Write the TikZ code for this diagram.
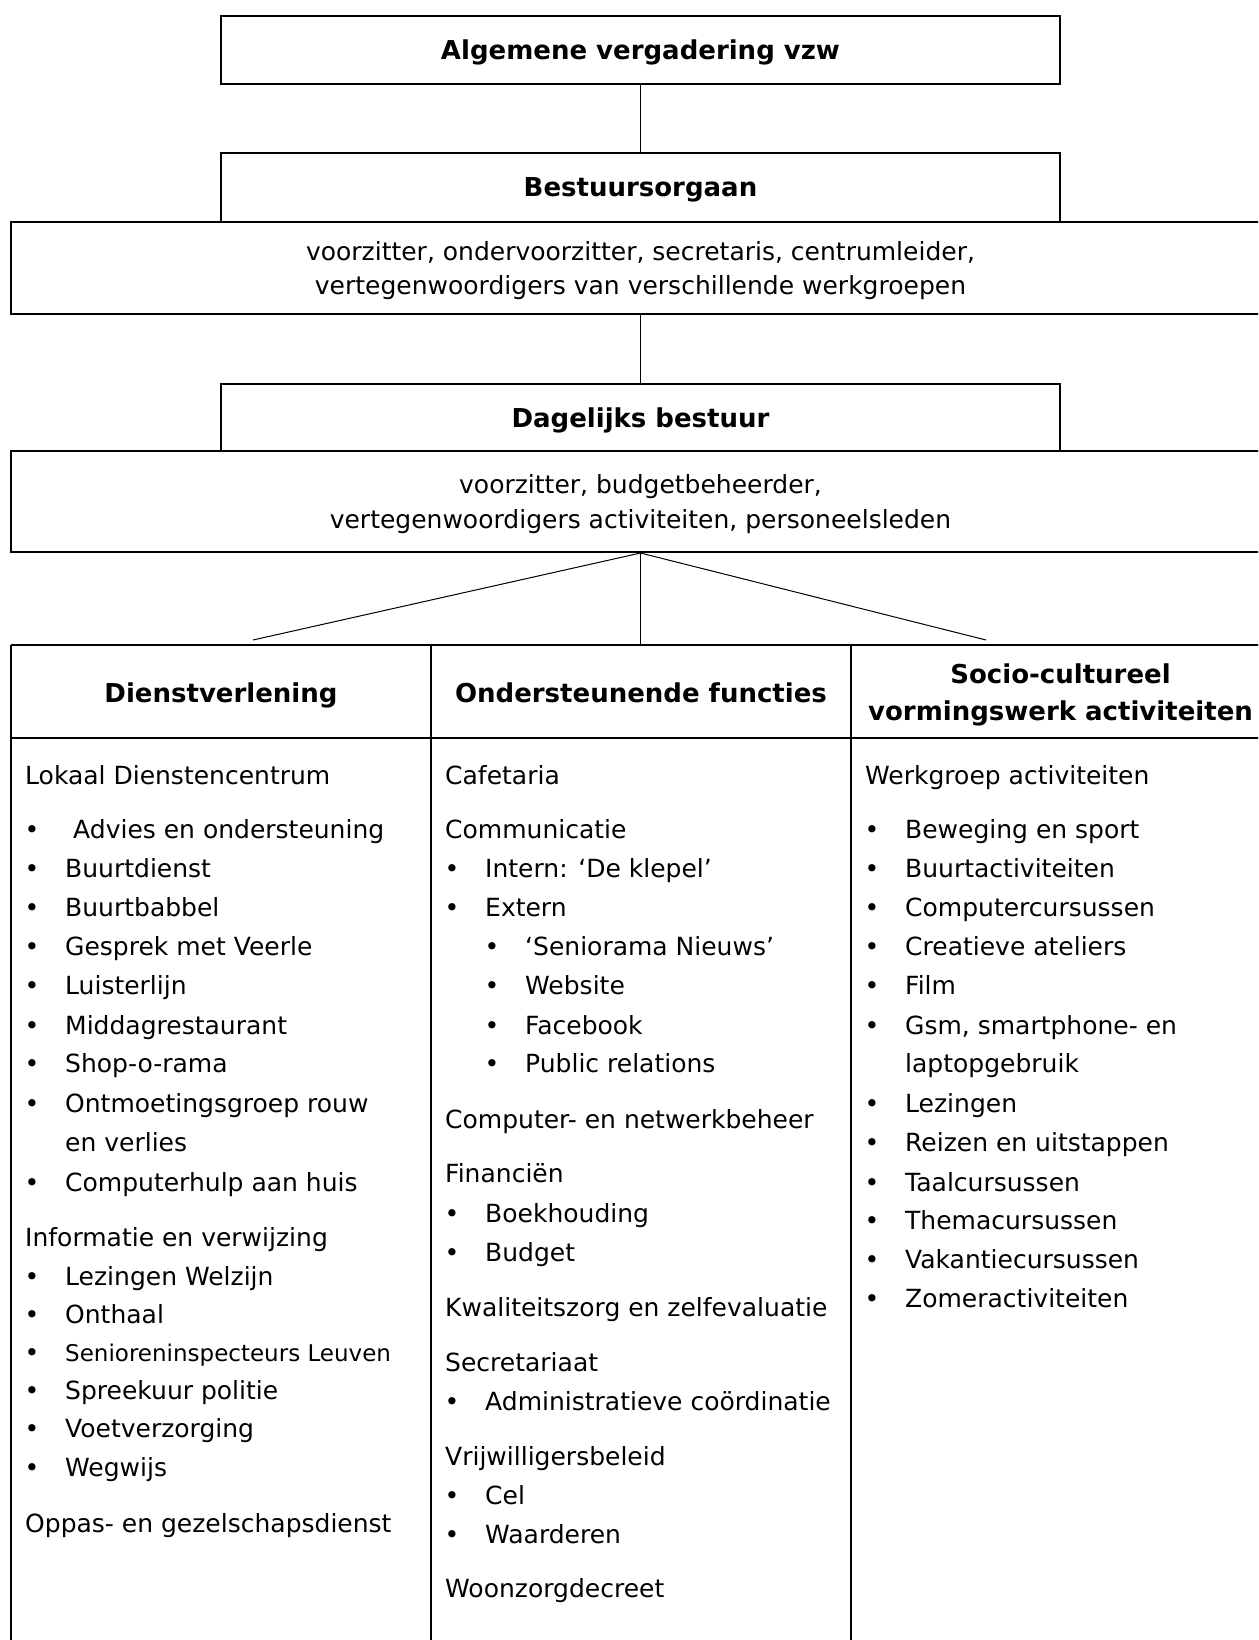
\documentclass[tikz,border=0pt]{standalone}
\usepackage{fontspec}
\setmainfont{DejaVu Sans}
\usepackage{tikz}
\usetikzlibrary{positioning,calc}
\tikzset{orgbox/.style={draw, line width=2pt, align=center, inner sep=0pt, text depth=0pt, font=\fontsize{25}{34.5}\selectfont}}
\tikzset{verbind/.style={line width=1pt}}
\tikzset{txt/.style={anchor=base west, inner sep=0pt, font=\fontsize{25}{30}\selectfont, yshift=-9pt}}
\tikzset{bol/.style={anchor=base, inner sep=0pt, font=\fontsize{25}{30}\selectfont, yshift=-9pt}}
\tikzset{kop/.style={anchor=base, align=center, inner sep=0pt, font=\bfseries\fontsize{26}{36.5}\selectfont, yshift=-9pt}}

\begin{document}
\begin{tikzpicture}[x=1pt,y=-1pt]
\useasboundingbox (0,0) rectangle (1258,1640);
\clip (0,0) rectangle (1258,1640);

\node[orgbox, minimum width=839pt, minimum height=68pt, font=\bfseries\fontsize{26}{30}\selectfont] (alg) at (640.5,50) {Algemene vergadering vzw};
\node[orgbox, minimum width=839pt, minimum height=69pt, font=\bfseries\fontsize{26}{30}\selectfont] (bestuur) at (640.5,187.5) {Bestuursorgaan};
\node[orgbox, minimum width=1259pt, minimum height=92pt] (bestleden) at (640.5,268) {voorzitter, ondervoorzitter, secretaris, centrumleider,\\vertegenwoordigers van verschillende werkgroepen};
\node[orgbox, minimum width=839pt, minimum height=67pt, font=\bfseries\fontsize{26}{30}\selectfont] (dagelijks) at (640.5,417.5) {Dagelijks bestuur};
\node[orgbox, minimum width=1259pt, minimum height=101pt] (dagleden) at (640.5,501.5) {voorzitter, budgetbeheerder,\\vertegenwoordigers activiteiten, personeelsleden};

\draw[verbind] (alg.south) -- (bestuur.north);
\draw[verbind] (bestleden.south) -- (dagelijks.north);

\coordinate (tlinks) at (253,640);
\coordinate (tmidden) at (640.5,645);
\coordinate (trechts) at (986,640);
\draw[verbind] (dagleden.south) -- (tlinks);
\draw[verbind] (dagleden.south) -- (tmidden);
\draw[verbind] (dagleden.south) -- (trechts);

% tabel
\draw[line width=1.6pt] (11,645) -- (1270,645);
\draw[line width=1.6pt] (11,738) -- (1270,738);
\draw[line width=2pt] (11,645) -- (11,1660);
\draw[line width=1.3pt] (431,645) -- (431,1660);
\draw[line width=1.3pt] (851,645) -- (851,1660);

\node[kop] (hdienst) at (221,693) {Dienstverlening};
\node[kop] (hfunctie) at (641,693) {Ondersteunende functies};
\node[kop] (hsocio) at (1060.5,711) {Socio-cultureel\\vormingswerk activiteiten};

% dienstverlening
\node[txt] (lokaal) at (25,775) {Lokaal Dienstencentrum};
\node[bol] (ldb0) at (32,829) {\textbullet};
\node[txt] (ld0) at (73,829) {Advies en ondersteuning};
\foreach \y/\t [count=\i] in {868/Buurtdienst, 907/Buurtbabbel, 946/Gesprek met Veerle, 985/Luisterlijn, 1025/Middagrestaurant, 1063/Shop-o-rama, 1103/Ontmoetingsgroep rouw, 1182/Computerhulp aan huis}
         {
           \node[bol] (ldb\i) at (32,\y) {\textbullet};
           \node[txt] (ld\i) at (65,\y) {\t};
         }
\node[txt] (ldverlies) at (65,1142) {en verlies};
\node[txt] (info) at (25,1237) {Informatie en verwijzing};
\foreach \y/\t [count=\i] in {1276/Lezingen Welzijn, 1314/Onthaal, 1390/Spreekuur politie, 1428/Voetverzorging, 1467/Wegwijs}
         {
           \node[bol] (ivb\i) at (32,\y) {\textbullet};
           \node[txt] (iv\i) at (65,\y) {\t};
         }
\node[bol] (ivbsen) at (32,1352) {\textbullet};
\node[txt, font=\fontsize{23}{28}\selectfont] (ivsen) at (65,1352) {Senioreninspecteurs Leuven};
\node[txt] (oppas) at (25,1523) {Oppas- en gezelschapsdienst};

% ondersteunende functies
\node[txt] (cafe) at (445,775) {Cafetaria};
\node[txt] (comm) at (445,829) {Communicatie};
\node[bol] (cmb1) at (452,868) {\textbullet};
\node[txt] (cm1) at (485,868) {Intern: ‘De klepel’};
\node[bol] (cmb2) at (452,907) {\textbullet};
\node[txt] (cm2) at (485,907) {Extern};
\foreach \y/\t [count=\i] in {946/‘Seniorama Nieuws’, 985/Website, 1025/Facebook, 1063/Public relations}
         {
           \node[bol] (exb\i) at (492,\y) {\textbullet};
           \node[txt] (ex\i) at (525,\y) {\t};
         }
\node[txt] (compnet) at (445,1119) {Computer- en netwerkbeheer};
\node[txt] (fin) at (445,1173) {Financiën};
\node[bol] (finb1) at (452,1213) {\textbullet};
\node[txt] (fin1) at (485,1213) {Boekhouding};
\node[bol] (finb2) at (452,1252) {\textbullet};
\node[txt] (fin2) at (485,1252) {Budget};
\node[txt] (kwal) at (445,1307) {Kwaliteitszorg en zelfevaluatie};
\node[txt] (secr) at (445,1362) {Secretariaat};
\node[bol] (secrb1) at (452,1401) {\textbullet};
\node[txt] (secr1) at (485,1401) {Administratieve coördinatie};
\node[txt] (vrijw) at (445,1456) {Vrijwilligersbeleid};
\node[bol] (vrijwb1) at (452,1495) {\textbullet};
\node[txt] (vrijw1) at (485,1495) {Cel};
\node[bol] (vrijwb2) at (452,1534) {\textbullet};
\node[txt] (vrijw2) at (485,1534) {Waarderen};
\node[txt] (woon) at (445,1588) {Woonzorgdecreet};

% socio-cultureel vormingswerk
\node[txt] (werkgr) at (865,775) {Werkgroep activiteiten};
\foreach \y/\t [count=\i] in {829/Beweging en sport, 868/Buurtactiviteiten, 907/Computercursussen, 946/Creatieve ateliers, 985/Film, 1103/Lezingen, 1142/Reizen en uitstappen, 1182/Taalcursussen, 1220/Themacursussen, 1259/Vakantiecursussen, 1298/Zomeractiviteiten}
         {
           \node[bol] (wgb\i) at (872,\y) {\textbullet};
           \node[txt] (wg\i) at (905,\y) {\t};
         }
\node[bol] (wgbgsm) at (872,1025) {\textbullet};
\node[txt] (wggsm) at (905,1025) {Gsm, smartphone- en};
\node[txt] (wglaptop) at (905,1063) {laptopgebruik};

\end{tikzpicture}
\end{document}
